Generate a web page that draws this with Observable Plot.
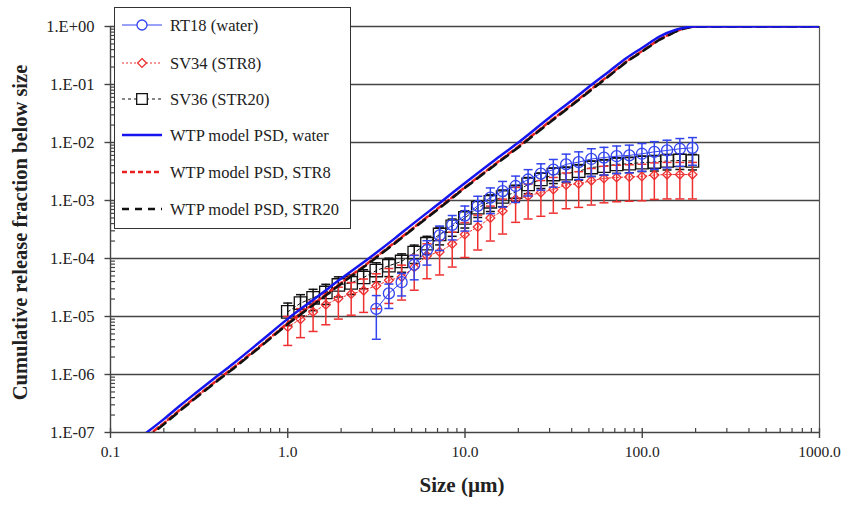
<!DOCTYPE html>
<html><head><meta charset="utf-8">
<script src="https://cdn.jsdelivr.net/npm/d3@7"></script>
<script src="https://cdn.jsdelivr.net/npm/@observablehq/plot@0.6"></script>
<style>
body{margin:0;background:#fff;}
#chart{position:relative;width:847px;height:510px;}
#chart svg text{font-family:"Liberation Serif","Times New Roman",serif;}
</style>
</head><body><div id="chart"></div>
<script>
// ---- data ----
const sizes = [1.00,1.18,1.39,1.64,1.93,2.28,2.68,3.16,3.72,4.39,5.17,6.10,7.19,8.47,9.98,11.8,13.9,16.3,19.3,22.7,26.8,31.5,37.2,43.8,51.6,60.8,71.7,84.5,99.6,117,138,163,192];
const rt18 = [null,null,null,null,null,null,null,1.35e-5,2.5e-5,3.9e-5,7.8e-5,1.4e-4,2.5e-4,3.8e-4,5.5e-4,8.1e-4,1.12e-3,1.45e-3,1.78e-3,2.3e-3,2.9e-3,3.4e-3,4.2e-3,4.6e-3,5.2e-3,5.5e-3,5.8e-3,6.0e-3,6.4e-3,6.9e-3,7.3e-3,7.8e-3,8.1e-3];
const rt18Err = [null,null,null,null,null,null,null,0.7,0.45,0.42,0.45,0.45,0.45,0.45,0.46,0.46,0.47,0.47,0.48,0.48,0.48,0.5,0.5,0.5,0.5,0.5,0.5,0.5,0.5,0.5,0.5,0.5,0.5];
const sv34 = [6.6e-6,9.0e-6,1.2e-5,1.6e-5,2.05e-5,2.45e-5,2.8e-5,3.4e-5,4.2e-5,4.8e-5,7.1e-5,1.12e-4,1.3e-4,1.78e-4,2.6e-4,3.5e-4,5.0e-4,6.6e-4,1.05e-3,1.2e-3,1.37e-3,1.55e-3,1.85e-3,1.95e-3,2.2e-3,2.4e-3,2.5e-3,2.55e-3,2.6e-3,2.75e-3,2.8e-3,2.8e-3,2.8e-3];
const sv34Err = [0.52,0.52,0.54,0.55,0.56,0.57,0.58,0.6,0.6,0.6,0.6,0.6,0.6,0.6,0.6,0.6,0.6,0.6,0.6,0.6,0.61,0.61,0.61,0.61,0.62,0.62,0.62,0.62,0.62,0.62,0.62,0.62,0.62];
const sv36 = [1.2e-5,1.7e-5,2.1e-5,2.6e-5,3.5e-5,3.8e-5,4.7e-5,6.2e-5,7.5e-5,8.9e-5,1.26e-4,1.8e-4,2.6e-4,3.6e-4,5.0e-4,7.5e-4,9.5e-4,1.15e-3,1.4e-3,1.9e-3,2.3e-3,2.8e-3,2.9e-3,3.2e-3,3.7e-3,3.9e-3,4.2e-3,4.3e-3,4.5e-3,4.6e-3,4.8e-3,4.9e-3,4.8e-3];
const sv36Err = [0.42,0.4,0.4,0.38,0.38,0.37,0.36,0.36,0.35,0.35,0.35,0.34,0.34,0.33,0.33,0.32,0.32,0.32,0.31,0.31,0.3,0.3,0.3,0.3,0.3,0.3,0.3,0.3,0.3,0.3,0.3,0.3,0.3];

const modelSize = [0.16,0.2,0.25,0.3,0.41,0.5,0.7,1.0,1.5,2.0,2.86,4,5,7.5,10,15,20,30,40,52,65,81.5,100,125,155,175,193,250,500,1000];
const modelWater = [1.0e-7,1.7e-7,3.0e-7,4.7e-7,1.0e-6,1.6e-6,3.7e-6,9.1e-6,2.3e-5,4.5e-5,1.0e-4,2.2e-4,3.8e-4,1.0e-3,2.0e-3,5.2e-3,1.0e-2,2.7e-2,5.3e-2,0.10,0.168,0.286,0.43,0.67,0.88,0.96,1.0,1.0,1.0,1.0];
const modelStr8 = [8.5e-8,1.45e-7,2.55e-7,4.0e-7,8.5e-7,1.36e-6,3.1e-6,7.7e-6,1.95e-5,3.8e-5,8.5e-5,1.87e-4,3.2e-4,8.5e-4,1.7e-3,4.4e-3,8.5e-3,2.3e-2,4.5e-2,8.5e-2,0.145,0.25,0.38,0.60,0.83,0.94,0.99,1.0,1.0,1.0];
const modelStr20 = [8.0e-8,1.38e-7,2.45e-7,3.85e-7,8.2e-7,1.3e-6,3.0e-6,7.4e-6,1.88e-5,3.65e-5,8.2e-5,1.8e-4,3.1e-4,8.2e-4,1.65e-3,4.25e-3,8.2e-3,2.2e-2,4.35e-2,8.2e-2,0.14,0.245,0.37,0.59,0.82,0.935,0.99,1.0,1.0,1.0];

const xTicks = [0.1,1,10,100,1000];
const xTickLabels = ["0.1","1.0","10.0","100.0","1000.0"];
const yTicks = [1,1e-1,1e-2,1e-3,1e-4,1e-5,1e-6,1e-7];
const yTickLabels = ["1.E+00","1.E-01","1.E-02","1.E-03","1.E-04","1.E-05","1.E-06","1.E-07"];
const legendLabels = ["RT18 (water)","SV34 (STR8)","SV36 (STR20)","WTP model PSD, water","WTP model PSD, STR8","WTP model PSD, STR20"];
const xTitle = "Size (\u00b5m)";
const yTitle = "Cumulative release fraction below size";

// ---- helpers ----
const font = '"Liberation Serif","Times New Roman",serif';
const toRows = (ys, errs) => sizes.map((s, i) => ({size: s, value: ys[i], lo: ys[i] == null ? null : ys[i] * (1 - errs[i]), hi: ys[i] == null ? null : ys[i] * (1 + errs[i])})).filter(d => d.value != null);
const modelRows = ys => modelSize.map((s, i) => ({size: s, value: ys[i]}));

const series = [
  {rows: toRows(sv36, sv36Err), color: "#111", symbol: "square", r: 7, dash: "3,3"},
  {rows: toRows(sv34, sv34Err), color: "#ee3030", symbol: "diamond2", r: 4, dash: "2,2"},
  {rows: toRows(rt18, rt18Err), color: "#3344ee", symbol: "circle", r: 5.5, dash: null}
];

const capSym = {draw(c){c.moveTo(-4.5,0);c.lineTo(4.5,0);}};
const tickUp = {draw(c){c.moveTo(0,0);c.lineTo(0,-4.5);}};
const tickXMajor = {draw(c){c.moveTo(0,-4.5);c.lineTo(0,5.5);}};
const tickRight = {draw(c){c.moveTo(0,0);c.lineTo(4.5,0);}};
const tickYMajor = {draw(c){c.moveTo(-6,0);c.lineTo(0,0);}};

const xMinor = [], yMinor = [];
for (let d = -1; d < 3; d++) for (let k = 2; k < 10; k++) xMinor.push(k * Math.pow(10, d));
for (let d = -7; d < 0; d++) for (let k = 2; k < 10; k++) yMinor.push(k * Math.pow(10, d));

const marks = [
  Plot.ruleY(yTicks, {stroke: "#444", strokeWidth: 1.4}),
  Plot.ruleX([0.1], {stroke: "#444", strokeWidth: 1.4}),
  Plot.ruleX([1000], {stroke: "#555", strokeWidth: 1.2}),
  Plot.dot(xMinor, {x: d => d, y: () => 1e-7, symbol: tickUp, r: 3, stroke: "#444", strokeWidth: 1.2}),
  Plot.dot(xTicks, {x: d => d, y: () => 1e-7, symbol: tickXMajor, r: 3, stroke: "#444", strokeWidth: 1.4}),
  Plot.dot(yMinor, {x: () => 0.1, y: d => d, symbol: tickRight, r: 3, stroke: "#444", strokeWidth: 1.2}),
  Plot.dot(yTicks, {x: () => 0.1, y: d => d, symbol: tickYMajor, r: 3, stroke: "#444", strokeWidth: 1.4}),
  Plot.text(xTicks, {x: d => d, frameAnchor: "bottom", dy: 24, text: (d, i) => xTickLabels[i], fontSize: 15.5, fill: "#222", textAnchor: "middle"}),
  Plot.text(yTicks, {y: d => d, frameAnchor: "left", dx: -16, textAnchor: "end", text: (d, i) => yTickLabels[i], fontSize: 16.5, fill: "#222"}),
  Plot.text([yTitle], {frameAnchor: "left", dx: -90, dy: 3, rotate: -90, textAnchor: "middle", text: d => d, fontSize: 20.5, fontWeight: "bold", fill: "#222"}),
  Plot.text([xTitle], {frameAnchor: "bottom", dy: 59, dx: -3, textAnchor: "middle", text: d => d, fontSize: 21, fontWeight: "bold", fill: "#222"})
];

for (const s of series) {
  marks.push(Plot.line(s.rows, {x: "size", y: "value", stroke: s.color, strokeWidth: 1, strokeDasharray: s.dash}));
  marks.push(Plot.ruleX(s.rows, {x: "size", y1: "lo", y2: "hi", stroke: s.color, strokeWidth: 1.5}));
  marks.push(Plot.dot(s.rows, {x: "size", y: "lo", symbol: capSym, r: 3, stroke: s.color, strokeWidth: 1.5}));
  marks.push(Plot.dot(s.rows, {x: "size", y: "hi", symbol: capSym, r: 3, stroke: s.color, strokeWidth: 1.5}));
  marks.push(Plot.dot(s.rows, {x: "size", y: "value", symbol: s.symbol, r: s.r, stroke: s.color, fill: "none", strokeWidth: 1.3}));
}

marks.push(Plot.line(modelRows(modelStr8), {x: "size", y: "value", stroke: "#e82020", strokeWidth: 2.5, strokeDasharray: "6,3", clip: true}));
marks.push(Plot.line(modelRows(modelStr20), {x: "size", y: "value", stroke: "#111", strokeWidth: 2.5, strokeDasharray: "9,6", clip: true}));
marks.push(Plot.line(modelRows(modelWater), {x: "size", y: "value", stroke: "#1515ee", strokeWidth: 2.5, clip: true, curve: "monotone-x"}));

const svg = Plot.plot({
  width: 847, height: 510,
  marginLeft: 110, marginRight: 28, marginTop: 26, marginBottom: 78,
  x: {type: "log", domain: [0.1, 1000], axis: null},
  y: {type: "log", domain: [1e-7, 1], axis: null},
  style: {fontFamily: font, fontSize: "15px", background: "#fff", color: "#222"},
  marks
});
document.getElementById("chart").appendChild(svg);

// ---- legend ----
const g = d3.select(svg).append("g").attr("text-anchor", "start");
g.append("rect").attr("x", 114.5).attr("y", 7.5).attr("width", 236).attr("height", 221).attr("fill", "#fff").attr("stroke", "#333").attr("stroke-width", 1);
const rowsY = [25, 63, 99, 135, 172, 209];
const styles = [
  {color: "#3344ee", w: 1, dash: null, sym: d3.symbolCircle, size: Math.PI * 5 * 5},
  {color: "#ee3030", w: 1, dash: "2,2", sym: d3.symbolDiamond2, size: Math.PI * 4 * 4},
  {color: "#111", w: 1, dash: "3,3", sym: d3.symbolSquare, size: Math.PI * 6 * 6},
  {color: "#1515ee", w: 2.5, dash: null},
  {color: "#e82020", w: 2.5, dash: "5,3"},
  {color: "#111", w: 2.5, dash: "7,6"}
];
legendLabels.forEach((lab, i) => {
  const st = styles[i], y = rowsY[i];
  g.append("line").attr("x1", 122).attr("x2", 162).attr("y1", y).attr("y2", y)
    .attr("stroke", st.color).attr("stroke-width", st.w).attr("stroke-dasharray", st.dash);
  if (st.sym) g.append("path").attr("d", d3.symbol(st.sym, st.size)()).attr("transform", `translate(142,${y})`)
    .attr("fill", "#fff").attr("stroke", st.color).attr("stroke-width", 1.3);
  g.append("text").attr("x", 170).attr("y", y).attr("dy", "0.35em").attr("text-anchor", "start")
    .style("font-family", font).style("font-size", "16.5px").attr("fill", "#222").text(lab);
});
</script>
</body></html>
